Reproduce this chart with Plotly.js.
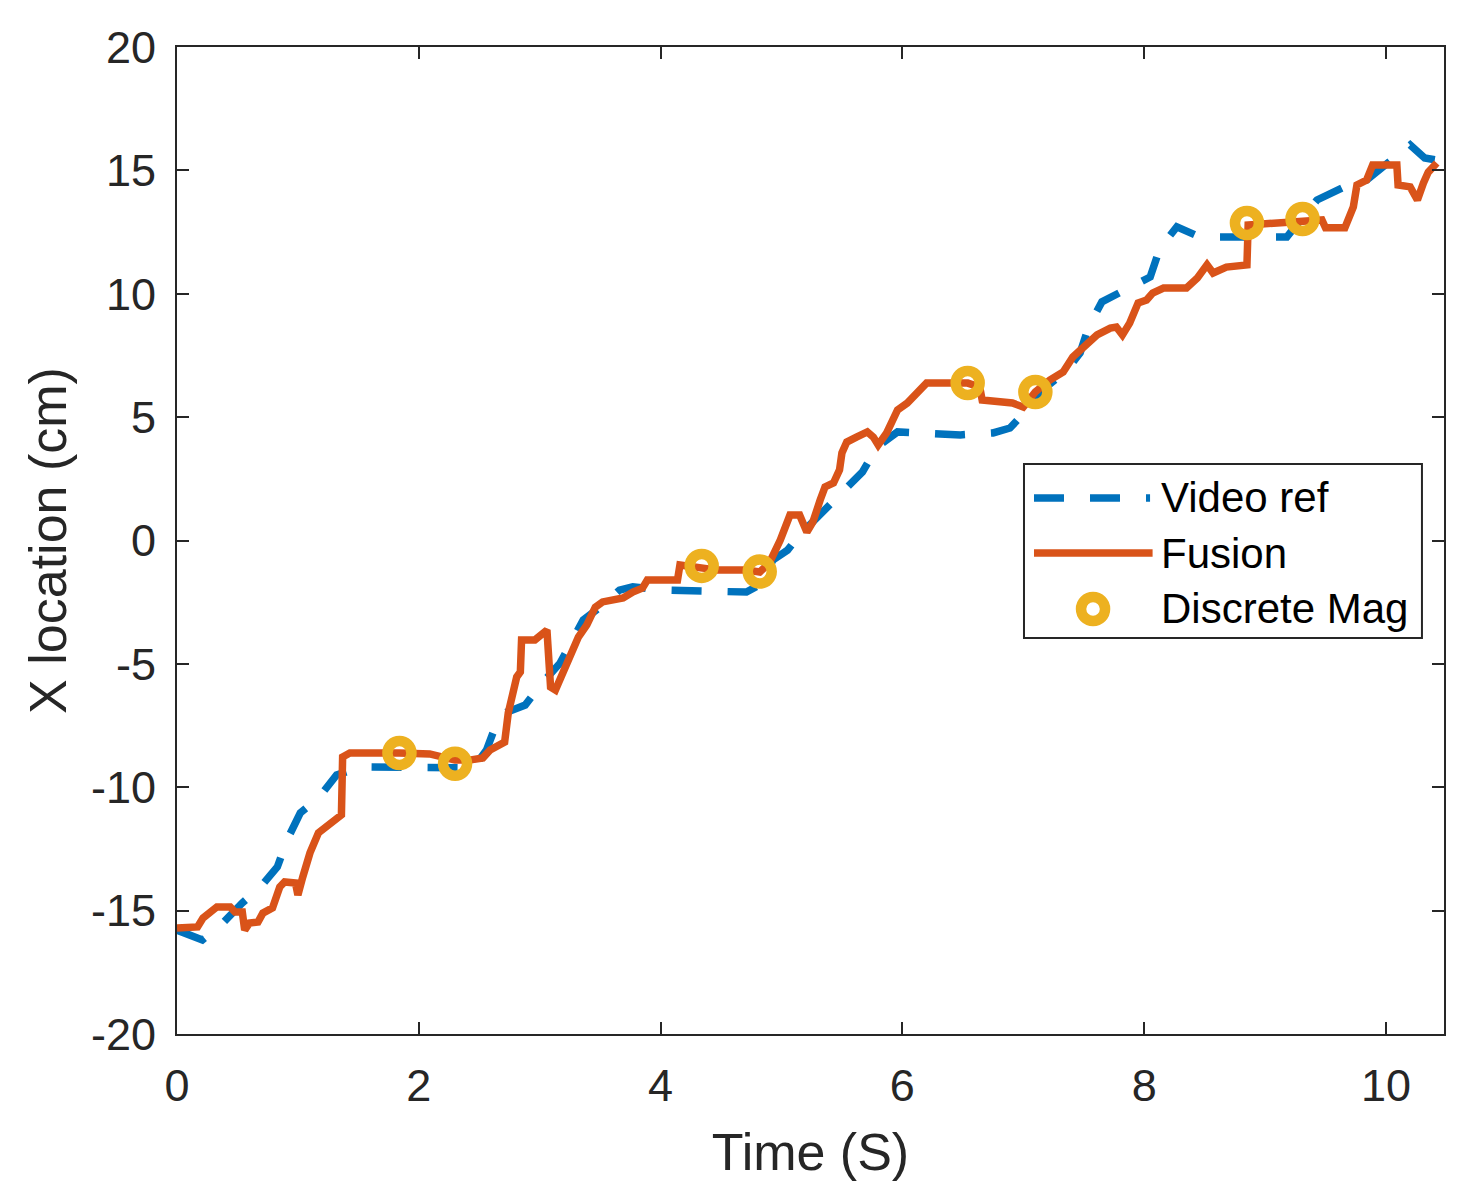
<!DOCTYPE html>
<html>
<head>
<meta charset="utf-8">
<script src="https://cdn.plot.ly/plotly-3.0.1.min.js"></script>
<style>html,body{margin:0;padding:0;background:#fff;}#chart{width:1481px;height:1203px;}</style>
</head>
<body>
<div id="chart"></div>
<script>
// Video ref (blue dashed)
var videoTime = [0, 0.07, 0.21, 0.38, 0.54, 0.69, 0.83, 0.91, 1.02, 1.17, 1.32, 1.53, 2.45, 2.56, 2.67, 2.88, 3.02, 3.17, 3.28, 3.36, 3.50, 3.66, 3.77, 4.02, 4.71, 4.82, 4.93, 5.05, 5.15, 5.34, 5.50, 5.67, 5.79, 5.96, 6.48, 6.75, 6.89, 7.03, 7.14, 7.36, 7.47, 7.54, 7.65, 7.86, 8.05, 8.13, 8.27, 8.46, 9.18, 9.26, 9.43, 9.64, 9.73, 9.84, 10.05, 10.20, 10.32, 10.42];
var videoX = [-15.79, -15.91, -16.19, -15.50, -14.69, -14.04, -13.23, -12.14, -11.04, -10.44, -9.50, -9.18, -9.22, -8.49, -7.07, -6.67, -5.78, -4.96, -3.91, -3.22, -2.70, -2.01, -1.88, -2.01, -2.09, -1.80, -0.79, -0.39, 0.22, 1.16, 1.93, 2.78, 3.79, 4.40, 4.28, 4.36, 4.56, 5.29, 6.02, 6.91, 7.60, 8.65, 9.67, 10.23, 10.68, 11.85, 12.71, 12.30, 12.30, 12.79, 13.80, 14.29, 14.49, 14.61, 15.42, 16.03, 15.50, 15.42];

// Fusion (orange solid)
var fusionTime = [0, 0.17, 0.215, 0.33, 0.44, 0.48, 0.54, 0.56, 0.60, 0.67, 0.71, 0.79, 0.85, 0.89, 0.98, 1.00, 1.04, 1.10, 1.17, 1.24, 1.32, 1.36, 1.37, 1.43, 1.84, 2.09, 2.30, 2.42, 2.53, 2.59, 2.71, 2.74, 2.81, 2.84, 2.85, 2.96, 3.06, 3.09, 3.13, 3.23, 3.32, 3.39, 3.46, 3.52, 3.69, 3.77, 3.85, 3.89, 4.14, 4.16, 4.34, 4.47, 4.71, 4.82, 4.90, 4.99, 5.07, 5.15, 5.21, 5.26, 5.32, 5.36, 5.43, 5.48, 5.50, 5.54, 5.62, 5.71, 5.76, 5.80, 5.87, 5.92, 5.96, 6.04, 6.12, 6.20, 6.54, 6.64, 6.66, 6.91, 7.00, 7.10, 7.22, 7.33, 7.41, 7.49, 7.53, 7.61, 7.72, 7.77, 7.82, 7.88, 7.95, 8.02, 8.07, 8.16, 8.35, 8.44, 8.52, 8.57, 8.68, 8.85, 8.86, 9.06, 9.31, 9.47, 9.50, 9.66, 9.73, 9.76, 9.84, 9.89, 10.09, 10.10, 10.20, 10.26, 10.31, 10.35, 10.42];
var fusionX = [-15.70, -15.66, -15.30, -14.85, -14.85, -15.06, -15.06, -15.79, -15.50, -15.46, -15.10, -14.89, -14.04, -13.84, -13.88, -14.37, -13.64, -12.66, -11.85, -11.61, -11.33, -11.12, -8.77, -8.61, -8.61, -8.65, -8.90, -8.90, -8.81, -8.49, -8.17, -6.99, -5.53, -5.33, -4.03, -4.03, -3.63, -5.94, -6.06, -4.96, -3.91, -3.42, -2.70, -2.49, -2.33, -2.09, -1.93, -1.60, -1.60, -0.99, -1.07, -1.20, -1.20, -1.28, -0.91, 0.02, 1.03, 1.03, 0.34, 0.75, 1.64, 2.17, 2.33, 2.86, 3.55, 3.99, 4.19, 4.40, 4.19, 3.87, 4.36, 4.88, 5.29, 5.57, 5.98, 6.38, 6.38, 6.22, 5.69, 5.57, 5.41, 6.02, 6.50, 6.83, 7.44, 7.80, 8.00, 8.33, 8.61, 8.65, 8.33, 8.81, 9.63, 9.75, 10.03, 10.23, 10.23, 10.64, 11.17, 10.84, 11.08, 11.17, 12.79, 12.87, 12.99, 12.99, 12.67, 12.67, 13.52, 14.41, 14.61, 15.22, 15.22, 14.41, 14.33, 13.80, 14.49, 14.93, 15.30];

// Discrete Mag (yellow open circles)
var magTime = [1.84, 2.30, 4.34, 4.82, 6.54, 7.10, 8.85, 9.31];
var magX = [-8.61, -9.05, -1.03, -1.26, 6.38, 6.02, 12.87, 13.03];

var xTicks = [0, 2, 4, 6, 8, 10];
var yTicks = [-20, -15, -10, -5, 0, 5, 10, 15, 20];
var legendLabels = ['Video ref', 'Fusion', 'Discrete Mag'];

var BLUE = '#0072BD', ORANGE = '#D95319', YELLOW = '#EDB120', INK = '#262626';
var FONT = '"Liberation Sans", Arial, Helvetica, sans-serif';

var traces = [
  {x: videoTime, y: videoX, type: 'scatter', mode: 'lines', name: legendLabels[0],
   line: {color: BLUE, width: 7.5, dash: '30px,26px'}, showlegend: false},
  {x: fusionTime, y: fusionX, type: 'scatter', mode: 'lines', name: legendLabels[1],
   line: {color: ORANGE, width: 7.5}, showlegend: false},
  {x: magTime, y: magX, type: 'scatter', mode: 'markers', name: legendLabels[2],
   marker: {symbol: 'circle-open', size: 24, color: YELLOW, line: {width: 10.5, color: YELLOW}}, showlegend: false}
];

// custom legend (paper coordinates)
var rowY = [0.5431, 0.4873, 0.4306];
var shapes = [
  {type: 'rect', xref: 'paper', yref: 'paper', x0: 0.6685, x1: 0.9826, y0: 0.4012, y1: 0.5775,
   line: {color: INK, width: 2}, fillcolor: '#ffffff', layer: 'above'},
  {type: 'line', xref: 'paper', yref: 'paper', x0: 0.6764, x1: 0.7680, y0: rowY[0], y1: rowY[0],
   line: {color: BLUE, width: 7.5, dash: '30px,26px'}, layer: 'above'},
  {type: 'line', xref: 'paper', yref: 'paper', x0: 0.6764, x1: 0.7700, y0: rowY[1], y1: rowY[1],
   line: {color: ORANGE, width: 7.5}, layer: 'above'},
  {type: 'circle', xref: 'paper', yref: 'paper', xsizemode: 'pixel', ysizemode: 'pixel',
   xanchor: 0.7230, yanchor: rowY[2], x0: -12, x1: 12, y0: -12, y1: 12,
   line: {color: YELLOW, width: 10.5}, fillcolor: 'rgba(0,0,0,0)', layer: 'above'}
];
var annotations = legendLabels.map(function (t, i) {
  return {text: t, xref: 'paper', yref: 'paper', x: 0.7750, y: rowY[i], xanchor: 'left', yanchor: 'middle',
    showarrow: false, font: {family: FONT, size: 42, color: '#000000'}};
});

var layout = {
  width: 1481, height: 1203,
  paper_bgcolor: '#ffffff', plot_bgcolor: '#ffffff',
  margin: {l: 177, r: 37, t: 47, b: 169, pad: 0},
  font: {family: FONT, color: INK, size: 45},
  showlegend: false,
  xaxis: {
    range: [0, 10.48], tickvals: xTicks, ticktext: xTicks.map(String),
    showline: true, mirror: 'ticks', linecolor: INK, linewidth: 2,
    ticks: 'inside', ticklen: 12, tickwidth: 2, tickcolor: INK,
    showgrid: false, zeroline: false, ticklabelstandoff: 11,
    tickfont: {family: FONT, size: 45, color: INK},
    title: {text: 'Time (S)', font: {family: FONT, size: 52, color: INK}, standoff: 24}
  },
  yaxis: {
    range: [-20, 20], tickvals: yTicks, ticktext: yTicks.map(String),
    showline: true, mirror: 'ticks', linecolor: INK, linewidth: 2,
    ticks: 'inside', ticklen: 12, tickwidth: 2, tickcolor: INK,
    showgrid: false, zeroline: false, ticklabelstandoff: 10,
    tickfont: {family: FONT, size: 45, color: INK},
    title: {text: 'X location (cm)', font: {family: FONT, size: 52, color: INK}, standoff: 8}
  },
  shapes: shapes,
  annotations: annotations
};

Plotly.newPlot('chart', traces, layout, {displayModeBar: false, staticPlot: true});
</script>
</body>
</html>
